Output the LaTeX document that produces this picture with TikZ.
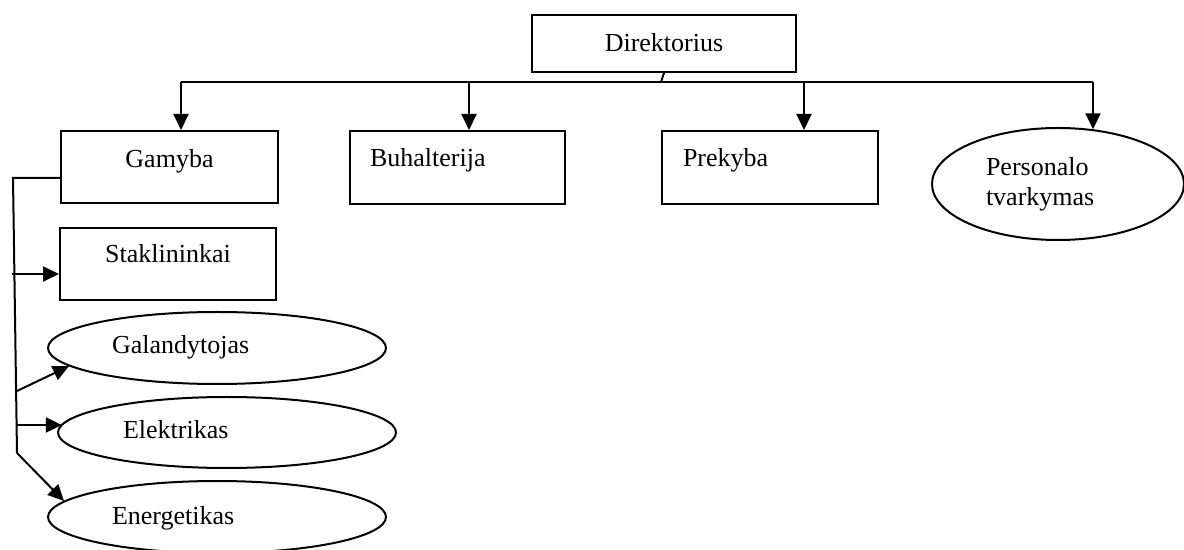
\documentclass[tikz,border=0pt]{standalone}
\usepackage{fontspec}
\setmainfont{Liberation Serif}
\usetikzlibrary{arrows.meta,shapes.geometric}

\begin{document}
\begin{tikzpicture}[x=0.5pt, y=-0.5pt, font=\fontsize{13pt}{15pt}\selectfont]

\tikzset{unit/.style = {shape=rectangle,draw,line width=1pt,anchor=north west,inner sep=0pt}}
\tikzset{worker/.style = {shape=ellipse,draw,line width=1pt,inner sep=0pt,align=left}}
\tikzset{edge/.style = {line width=1pt,-{Triangle[length=8pt,width=7.5pt]}}}

\useasboundingbox (0,0) rectangle (1184,550);
% vertices
\node[unit, text width=132pt, align=center, text height=18.5pt, text depth=10pt] (dir) at (531,14) {Direktorius};
\node[unit, text width=108.5pt, align=center, text height=18.5pt, text depth=17.5pt] (gam) at (60,130) {Gamyba};
\node[unit, inner xsep=10pt, text width=87.5pt, align=left, text height=18pt, text depth=18.5pt] (buh) at (349,130) {Buhalterija};
\node[unit, inner xsep=10.5pt, text width=87pt, align=left, text height=18pt, text depth=18.5pt] (prek) at (661,130) {Prekyba};
\node[worker, minimum width=126pt, minimum height=56pt, text width=72pt] (per) at (1058,184) {Personalo\\tvarkymas};
\node[unit, text width=108pt, align=center, text height=17.5pt, text depth=18.5pt] (stak) at (59,227) {Staklininkai};
\node[worker, minimum width=169pt, minimum height=36pt, text width=105pt, text height=10pt, text depth=4pt] (gal) at (217,348) {Galandytojas};
\node[worker, minimum width=169pt, minimum height=35.5pt, text width=104pt, text height=10.5pt, text depth=4pt] (ele) at (227,432.5) {Elektrikas};
\node[worker, minimum width=169pt, minimum height=36pt, text width=105pt, text height=11pt, text depth=4pt] (ene) at (217,517) {Energetikas};
% bus points
\coordinate (tap) at (661,82);
\coordinate (dG) at (181,82);
\coordinate (dB) at (469,82);
\coordinate (dP) at (804,82);
\coordinate (dT) at (1093,82);
\coordinate (tTop) at (13,178);
\coordinate (tBot) at (17,453);
\coordinate (bS) at (12,274);
\coordinate (bG) at (17,391);
\coordinate (bE) at (17,425);
%edges
\begin{scope}[every path/.style={line width=1pt}]
       \draw (dir.south) -- (tap);
       \draw (dG) -- (dT);
       \draw[edge] (dG) -- (dG |- gam.north);
       \draw[edge] (dB) -- (dB |- buh.north);
       \draw[edge] (dP) -- (dP |- prek.north);
       \draw[edge] (dT) -- (dT |- per.57);
       \draw (gam.west |- tTop) -- (tTop) -- (tBot);
       \draw[edge] (bS) -- (bS -| stak.west);
       \draw[edge] (bG) -- (gal.187);
       \draw[edge] (bE) -- (bE -| ele.177);
       \draw[edge] (tBot) -- (ene.174);
\end{scope}

\end{tikzpicture}
\end{document}
